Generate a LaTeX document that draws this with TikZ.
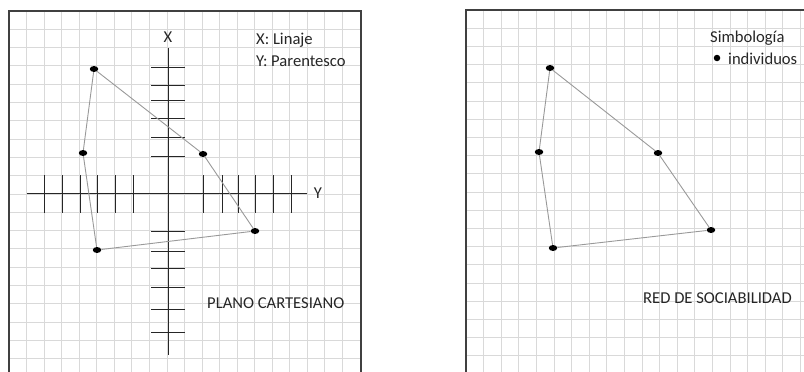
\documentclass[tikz,border=0pt]{standalone}
\usepackage{fontspec}
\setmainfont{Carlito}
\usetikzlibrary{shapes.geometric}
\begin{document}
\begin{tikzpicture}[x=1pt,y=-1pt,
 gridline/.style={black!15,line width=0.9pt},
 frameline/.style={black!75,line width=1.3pt},
 axisline/.style={black!85,line width=1pt},
 tickline/.style={black!85,line width=1pt},
 edge/.style={black!40,line width=0.9pt},
 dot/.style={ellipse,fill=black,minimum width=8.5pt,minimum height=6pt,inner sep=0pt},
 lab/.style={font=\fontsize{16.6}{19}\selectfont,text=black!85,inner sep=0pt,anchor=west}]
\useasboundingbox (0,0) rectangle (804,372);
% grids
\foreach \k in {1,...,19} \draw[gridline] ({9+17.55*\k},11) -- ({9+17.55*\k},372);
\foreach \k in {1,...,19} \draw[gridline] (9,{11+18.3*\k}) -- (361,{11+18.3*\k});
\foreach \k in {1,...,19} \draw[gridline] ({466+17.6*\k},10) -- ({466+17.6*\k},372);
\foreach \k in {1,...,19} \draw[gridline] (466,{10+18.2*\k}) -- (804,{10+18.2*\k});
% frames
\draw[frameline] (9,376) -- (9,11) -- (361,11) -- (361,376);
\draw[frameline] (466,376) -- (466,10) -- (808,10);
% axes
\draw[axisline] (168,48) -- (168,355);
\draw[axisline] (27,193) -- (307,193);
\foreach \y in {67,85,100,118,137,156,231,251,268,287,309,332} \draw[tickline] (151,\y) -- (185,\y);
\foreach \x in {44,62,80,97,115,133,203,222,238,255,273,291} \draw[tickline] (\x,175) -- (\x,213);
\node[lab,anchor=center] (xl) at (168,37) {X};
\node[lab,anchor=center] (yl) at (318,193) {Y};
\node[lab] (t1) at (256,40) {X: Linaje};
\node[lab] (t2) at (256,61) {Y: Parentesco};
\node[lab] (t3) at (207,303) {PLANO CARTESIANO};
% left points
\node[dot] (a1) at (94,69) {};
\node[dot] (a2) at (203,154) {};
\node[dot] (a3) at (255,231) {};
\node[dot] (a4) at (97,250) {};
\node[dot] (a5) at (83,153) {};
\draw[edge] (a1) -- (a2) -- (a3) -- (a4) -- (a5) -- (a1);
% right
\node[lab] (s1) at (710,38) {Simbología};
\node[circle,fill=black,minimum size=6.5pt,inner sep=0pt] (sb) at (717,58) {};
\node[lab] (s2) at (728,59) {individuos};
\node[lab] (t4) at (643,298) {RED DE SOCIABILIDAD};
\node[dot] (b1) at (550,68) {};
\node[dot] (b2) at (658,153) {};
\node[dot] (b3) at (711,230) {};
\node[dot] (b4) at (553,248) {};
\node[dot] (b5) at (539,152) {};
\draw[edge] (b1) -- (b2) -- (b3) -- (b4) -- (b5) -- (b1);
\end{tikzpicture}
\end{document}
